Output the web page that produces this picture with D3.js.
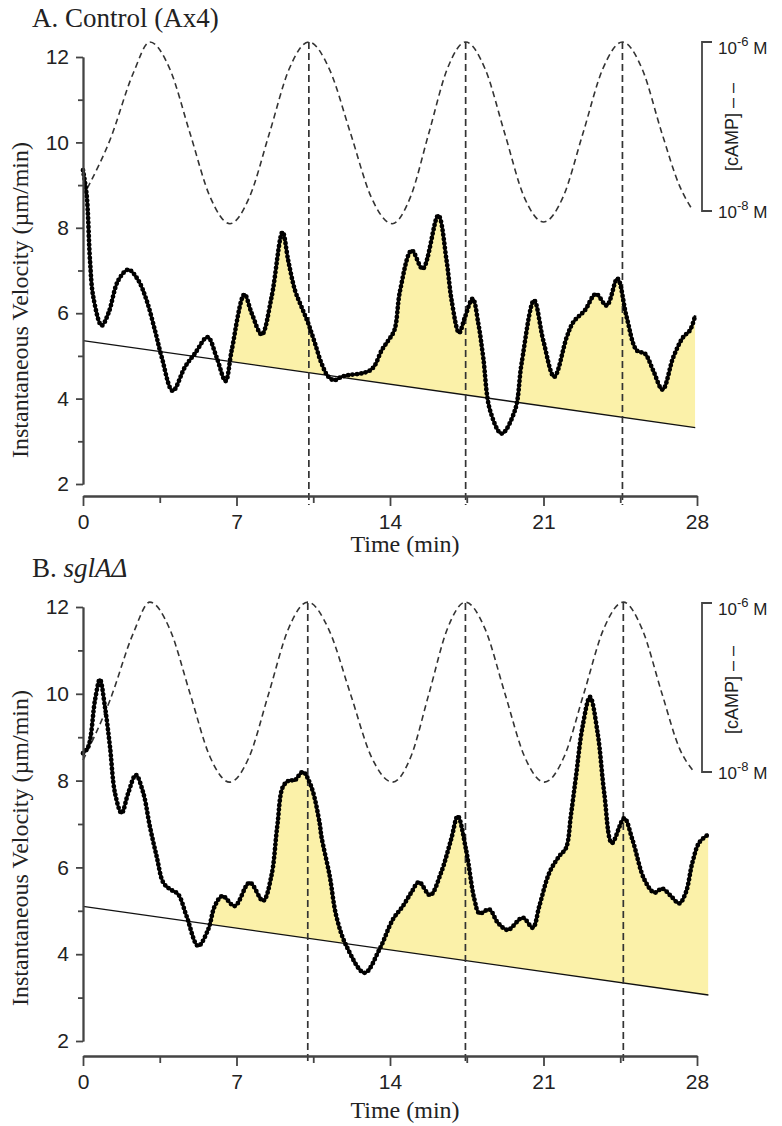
<!DOCTYPE html>
<html>
<head>
<meta charset="utf-8">
<script src="https://cdn.jsdelivr.net/npm/d3@7"></script>
<style>
  body { margin: 0; background: #fff; }
</style>
</head>
<body>
<svg id="chart" width="782" height="1126"></svg>
<script>
// ---- data ----
const xTicks = [0, 7, 14, 21, 28];
const xMinorTicks = [3.5, 10.5, 17.5, 24.5];
const yTicks = [2, 4, 6, 8, 10, 12];
const yMinorTicks = [3, 5, 7, 9, 11];
const campLevels = [-6, -8];           // log10 M, bracket ends

// instantaneous velocity, [time (min), um/min]
const velocityA = [
  [0, 9.35], [0.17, 8.75], [0.32, 7.23], [0.47, 6.38], [0.85, 5.71], [1.16, 6.0],
  [1.61, 6.77], [2.07, 7.02], [2.52, 6.77], [2.9, 6.3], [3.28, 5.6], [3.59, 4.97],
  [4.09, 4.18], [4.65, 4.74], [5.11, 5.06], [5.68, 5.44], [6.09, 4.97], [6.5, 4.41],
  [6.78, 5.13], [7.36, 6.44], [7.69, 6.0], [8.15, 5.5], [8.6, 6.38], [9.1, 7.9],
  [9.36, 7.23], [9.67, 6.53], [9.97, 6.14], [10.28, 5.75], [10.58, 5.29], [10.88, 4.82],
  [11.19, 4.51], [11.46, 4.43], [11.79, 4.51], [12.1, 4.55], [12.7, 4.59], [13.09, 4.66],
  [13.31, 4.78], [13.62, 5.13], [13.92, 5.36], [14.2, 5.6], [14.46, 6.53], [14.99, 7.47],
  [15.49, 7.04], [16.2, 8.29], [16.58, 7.23], [16.81, 6.3], [17.15, 5.54], [17.42, 5.91],
  [17.77, 6.34], [18.03, 5.75], [18.25, 4.97], [18.56, 3.73], [19.09, 3.18], [19.7, 3.73],
  [20.0, 4.82], [20.57, 6.3], [20.99, 5.36], [21.49, 4.51], [22.06, 5.44], [22.36, 5.79],
  [22.89, 6.07], [23.39, 6.45], [23.88, 6.18], [24.37, 6.81], [24.79, 5.91], [25.25, 5.13],
  [25.63, 5.05], [26.0, 4.66], [26.43, 4.21], [26.92, 4.97], [27.37, 5.44], [27.68, 5.6],
  [27.92, 5.95]
];
const velocityB = [
  [0, 8.63], [0.24, 8.78], [0.55, 9.86], [0.77, 10.33], [1.0, 9.7], [1.23, 8.78],
  [1.46, 7.71], [1.76, 7.25], [2.06, 7.71], [2.41, 8.13], [2.75, 7.71], [3.05, 6.94],
  [3.36, 6.25], [3.66, 5.65], [3.96, 5.5], [4.34, 5.38], [4.72, 4.88], [5.25, 4.19],
  [5.71, 4.57], [6.01, 5.11], [6.36, 5.34], [6.92, 5.11], [7.6, 5.65], [8.21, 5.23],
  [8.59, 5.8], [8.86, 6.95], [9.12, 7.86], [9.43, 8.01], [9.65, 8.0], [9.8, 8.09],
  [10.03, 8.2], [10.41, 7.86], [10.79, 7.02], [10.87, 6.72], [11.25, 5.8], [11.55, 4.88],
  [12.01, 4.19], [12.84, 3.57], [13.52, 4.11], [14.13, 4.8], [14.59, 5.11], [14.97, 5.42],
  [15.32, 5.66], [15.83, 5.36], [16.33, 5.88], [16.79, 6.65], [17.09, 7.18], [17.47, 6.4],
  [17.85, 5.26], [18.08, 4.94], [18.53, 5.03], [18.91, 4.73], [19.37, 4.56], [20.05, 4.84],
  [20.51, 4.61], [20.81, 5.11], [21.27, 5.88], [21.72, 6.26], [22.03, 6.45], [22.25, 7.2],
  [22.48, 8.09], [22.78, 9.24], [23.12, 9.93], [23.47, 9.09], [23.77, 7.71], [24.12, 6.56],
  [24.68, 7.13], [25.06, 6.63], [25.59, 5.73], [26.05, 5.42], [26.42, 5.51], [26.81, 5.34],
  [27.19, 5.17], [27.49, 5.42], [27.79, 6.11], [28.1, 6.57], [28.52, 6.76]
];

// straight baseline, velocity at start and end of record
const trendA = [5.36, 3.32];
const trendB = [5.1, 3.06];
// shading begins here (min)
const shadeFromA = 6.6;
const shadeFromB = 5.6;

// applied cAMP wave, [time (min), log10 M]
const campA = [
  [0.2, -7.73], [1.23, -7.16], [2.29, -6.37], [3.05, -6.0], [3.96, -6.32], [4.88, -7.08],
  [5.79, -7.83], [6.7, -8.15], [7.6, -7.83], [8.5, -7.08], [9.4, -6.32], [10.3, -6.0],
  [11.25, -6.33], [12.2, -7.08], [13.15, -7.84], [14.1, -8.15], [14.94, -7.83], [15.78, -7.07],
  [16.61, -6.32], [17.45, -6.0], [18.34, -6.32], [19.23, -7.08], [20.11, -7.83], [21.0, -8.13],
  [21.9, -7.83], [22.8, -7.08], [23.7, -6.32], [24.6, -6.0], [25.5, -6.32], [26.4, -7.08],
  [27.2, -7.7], [27.8, -7.99]
];
const campB = [
  [0, -7.86], [1.23, -7.15], [2.29, -6.36], [3.05, -5.99], [3.96, -6.31], [4.88, -7.07],
  [5.79, -7.82], [6.69, -8.12], [7.58, -7.82], [8.47, -7.07], [9.36, -6.31], [10.25, -5.99],
  [11.22, -6.32], [12.19, -7.07], [13.15, -7.82], [14.12, -8.12], [14.95, -7.82], [15.78, -7.07],
  [16.61, -6.31], [17.44, -5.99], [18.34, -6.31], [19.24, -7.07], [20.14, -7.82], [21.04, -8.12],
  [21.94, -7.82], [22.84, -7.07], [23.74, -6.31], [24.64, -5.99], [25.5, -6.31], [26.4, -7.07],
  [27.2, -7.72], [27.87, -8.0]
];
// cAMP peaks marked by vertical dashed lines
const pulsePeaksA = [10.3, 17.45, 24.6];
const pulsePeaksB = [10.25, 17.44, 24.64];

// ---- drawing ----
const svg = d3.select('#chart');
const serif = '"Liberation Serif", "Times New Roman", serif';
const sans = '"Liberation Sans", Arial, sans-serif';
const axisColor = '#444';
const textColor = '#222';

const panels = [
  { id: 'A', velocity: velocityA, trend: trendA, shadeFrom: shadeFromA, camp: campA, peaks: pulsePeaksA,
    yRange: [484, 57], campRange: [211, 42], axisY: 496, titleY: 27, xLabelY: 529, xTitleY: 552,
    yTitleY: 300, campLabelY: 127 },
  { id: 'B', velocity: velocityB, trend: trendB, shadeFrom: shadeFromB, camp: campB, peaks: pulsePeaksB,
    yRange: [1041, 607], campRange: [772, 603], axisY: 1056, titleY: 577, xLabelY: 1089, xTitleY: 1118,
    yTitleY: 848, campLabelY: 690 }
];

const x = d3.scaleLinear().domain([0, 28]).range([83, 697]);

panels.forEach((p, pi) => {
  const y = d3.scaleLinear().domain([2, 12]).range(p.yRange);
  const c = d3.scaleLinear().domain([-8, -6]).range(p.campRange);
  const g = svg.append('g').attr('class', 'panel-' + p.id);

  const t0 = p.velocity[0][0];
  const t1 = p.velocity[p.velocity.length - 1][0];
  const trendAt = t => p.trend[0] + (p.trend[1] - p.trend[0]) * (t - t0) / (t1 - t0);

  // shading between velocity trace and baseline (only where trace is above)
  const clipId = 'clip' + p.id;
  const ys = p.shadeFrom;
  g.append('clipPath').attr('id', clipId)
    .append('polygon')
    .attr('points', [
      [x(ys), y(trendAt(ys))], [x(t1), y(trendAt(t1))], [x(t1), y(12.5)], [x(ys), y(12.5)]
    ].map(d => d.join(',')).join(' '));

  const curve = d3.curveCatmullRom.alpha(0.5);
  const area = d3.area().curve(curve)
    .x(d => x(d[0])).y0(y(2)).y1(d => y(d[1]));
  g.append('path')
    .datum(p.velocity)
    .attr('clip-path', `url(#${clipId})`)
    .attr('fill', '#fbf1a9')
    .attr('d', area);

  // baseline
  g.append('line')
    .attr('x1', x(t0)).attr('y1', y(p.trend[0]))
    .attr('x2', x(t1)).attr('y2', y(p.trend[1]))
    .attr('stroke', '#111').attr('stroke-width', 1.3);

  // cAMP wave
  const campLine = d3.line().curve(d3.curveMonotoneX)
    .x(d => x(d[0])).y(d => c(d[1]));
  g.append('path')
    .datum(p.camp)
    .attr('fill', 'none')
    .attr('stroke', '#333')
    .attr('stroke-width', 1.6)
    .attr('stroke-dasharray', '6 4')
    .attr('d', campLine);

  // dashed markers at cAMP peaks, down through the time axis
  g.selectAll('.peak')
    .data(p.peaks)
    .join('line')
    .attr('class', 'peak')
    .attr('x1', d => x(d)).attr('x2', d => x(d))
    .attr('y1', c(-6)).attr('y2', p.axisY + 9)
    .attr('stroke', '#333')
    .attr('stroke-width', 1.7)
    .attr('stroke-dasharray', '7 4');

  // velocity trace: thick line + beads
  const line = d3.line().curve(curve).x(d => x(d[0])).y(d => y(d[1]));
  g.append('path')
    .datum(p.velocity)
    .attr('fill', 'none')
    .attr('stroke', '#000')
    .attr('stroke-width', 2.6)
    .attr('d', line);
  g.append('path')
    .datum(p.velocity)
    .attr('fill', 'none')
    .attr('stroke', '#000')
    .attr('stroke-width', 4.8)
    .attr('stroke-linecap', 'round')
    .attr('stroke-dasharray', '0 4.4')
    .attr('d', line);

  // y axis
  g.append('g').attr('transform', 'translate(83,0)')
    .call(d3.axisLeft(y).tickValues(yTicks).tickSize(7).tickSizeOuter(0).tickPadding(7));
  g.append('g').attr('transform', 'translate(83,0)')
    .call(d3.axisLeft(y).tickValues(yMinorTicks).tickSize(5).tickSizeOuter(0).tickFormat(''));

  // x axis
  const xAxis = g.append('g').attr('transform', `translate(0,${p.axisY})`)
    .call(d3.axisBottom(x).tickValues(xTicks).tickSize(10).tickSizeOuter(0).tickPadding(14));
  g.append('g').attr('transform', `translate(0,${p.axisY})`)
    .call(d3.axisBottom(x).tickValues(xMinorTicks).tickSize(7).tickSizeOuter(0).tickFormat(''));

  g.selectAll('.domain, .tick line').attr('stroke', axisColor).attr('stroke-width', 1.8);
  g.selectAll('.tick text').attr('font-family', sans).attr('font-size', 21).attr('fill', textColor);
  xAxis.selectAll('.tick text').attr('dy', null).attr('y', p.xLabelY - p.axisY);

  // panel title
  const title = g.append('text')
    .attr('x', 32).attr('y', p.titleY)
    .attr('font-family', serif).attr('font-size', 27).attr('fill', textColor);
  if (pi === 0) {
    title.text('A. Control (Ax4)');
  } else {
    title.append('tspan').text('B. ');
    title.append('tspan').attr('font-style', 'italic').text('sglAΔ');
  }

  // axis titles
  g.append('text')
    .attr('transform', `translate(28,${p.yTitleY}) rotate(-90)`)
    .attr('text-anchor', 'middle')
    .attr('font-family', serif).attr('font-size', 24).attr('fill', textColor)
    .text('Instantaneous Velocity (µm/min)');
  g.append('text')
    .attr('x', 405).attr('y', p.xTitleY)
    .attr('text-anchor', 'middle')
    .attr('font-family', serif).attr('font-size', 24).attr('fill', textColor)
    .text('Time (min)');

  // cAMP scale bracket
  const bx = 702;
  g.append('path')
    .attr('d', `M${bx + 10},${c(-6)}H${bx}V${c(-8)}H${bx + 10}`)
    .attr('fill', 'none').attr('stroke', axisColor).attr('stroke-width', 1.8);
  campLevels.forEach(lv => {
    const t = g.append('text')
      .attr('x', bx + 16).attr('y', c(lv) + (lv === -6 ? 12 : 7))
      .attr('font-family', sans).attr('font-size', 17).attr('fill', textColor);
    t.append('tspan').text('10');
    t.append('tspan').attr('font-size', 13).attr('dy', -8).text('-' + Math.abs(lv));
    t.append('tspan').attr('dy', 8).text(' M');
  });
  g.append('text')
    .attr('transform', `translate(738,${p.campLabelY}) rotate(-90)`)
    .attr('text-anchor', 'middle')
    .attr('font-family', sans).attr('font-size', 18).attr('fill', textColor)
    .text('[cAMP] – –');
});
</script>
</body>
</html>
